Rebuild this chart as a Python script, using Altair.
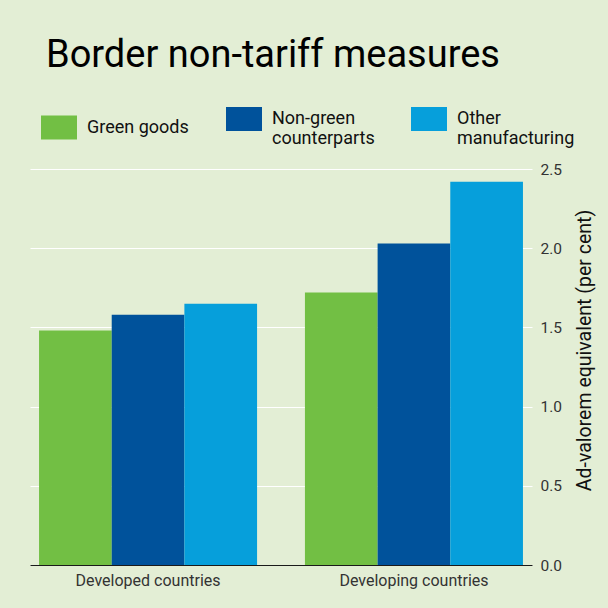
import altair as alt
import pandas as pd

regions = ["Developed countries", "Developing countries"]
categories = ["Green goods", "Non-green counterparts", "Other manufacturing"]
green_goods = [1.48, 1.72]
non_green = [1.58, 2.03]
other_manuf = [1.65, 2.42]
colors = ["#72BF44", "#00529B", "#069FDB"]
y_ticks = [0.0, 0.5, 1.0, 1.5, 2.0, 2.5]

rows = []
for i, r in enumerate(regions):
    for cat, vals in zip(categories, [green_goods, non_green, other_manuf]):
        rows.append({"region": r, "category": cat, "value": vals[i]})
df = pd.DataFrame(rows)

FONT = "Roboto"

chart = alt.Chart(df).mark_bar().encode(
    x=alt.X("region:N", sort=regions,
            scale=alt.Scale(paddingInner=0.18, paddingOuter=0.034),
            axis=alt.Axis(title=None, labelAngle=0, ticks=False, domain=True,
                          domainColor="#1a1a1a", domainWidth=1.2,
                          labelFont=FONT, labelFontSize=16, labelColor="#333333",
                          labelPadding=7)),
    xOffset=alt.XOffset("category:N", sort=categories, scale=alt.Scale(paddingInner=0, paddingOuter=0)),
    y=alt.Y("value:Q", scale=alt.Scale(domain=[0, 2.5], nice=False),
            axis=alt.Axis(orient="right", values=y_ticks, format=".1f",
                          title="Ad-valorem equivalent (per cent)",
                          titleAngle=270, titleFont=FONT, titleFontSize=19.5,
                          titleFontWeight="normal", titleColor="#111111",
                          titleX=58, titleY=181, titleAlign="center",
                          titleBaseline="alphabetic",
                          domain=False, ticks=False, grid=True, gridColor="#ffffff",
                          gridWidth=1, labelFont=FONT, labelFontSize=15.5,
                          labelColor="#333333", labelPadding=8)),
    color=alt.Color("category:N", sort=categories,
                    scale=alt.Scale(domain=categories, range=colors),
                    legend=alt.Legend(title=None, orient="none", legendX=17, legendY=-62,
                                      direction="horizontal", columns=3,
                                      symbolType="M-1.5,-1H1.5V1H-1.5Z", symbolSize=576,
                                      symbolStrokeWidth=0, symbolOpacity=1,
                                      labelFont=FONT, labelFontSize=18, labelColor="#111111",
                                      labelOffset=16, labelLimit=300, gridAlign="all",
                                      columnPadding=21, padding=0,
                                      labelExpr="datum.label == 'Green goods' ? datum.label : split(replace(datum.label, ' ', '|'), '|')")),
).properties(
    width=502,
    height=396,
    title=alt.TitleParams("Border non-tariff measures", anchor="start", font=FONT,
                          fontSize=38, fontWeight="normal", color="#000000",
                          dx=16, offset=2, baseline="alphabetic"),
    padding={"left": 30, "top": 169, "right": 76, "bottom": 43},
    autosize=alt.AutoSizeParams(type="none"),
    background="#E3EED5",
).configure_view(stroke=None)

chart.save("out.html", embed_options={"renderer": "svg", "actions": False})
